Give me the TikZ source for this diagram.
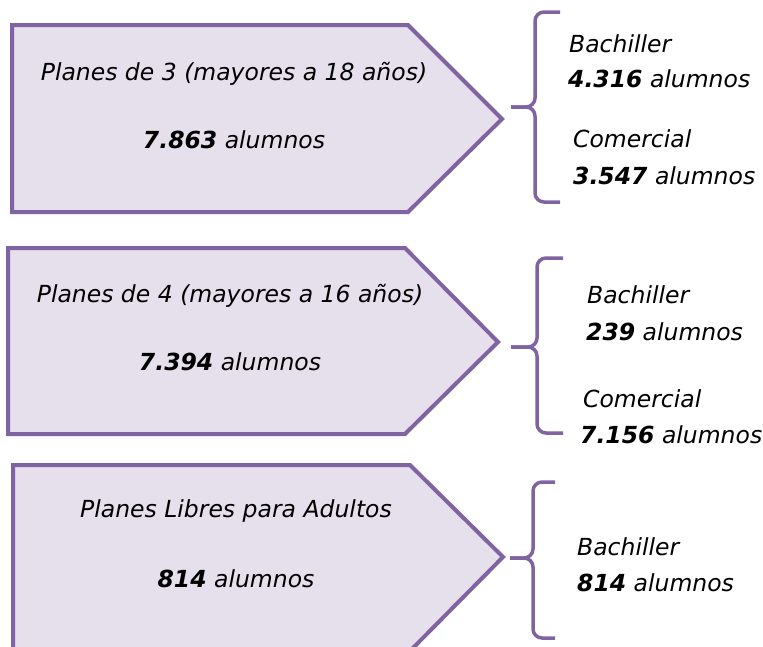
\documentclass[tikz,border=0pt]{standalone}
\usepackage{fontspec}
\setmainfont{DejaVu Sans}
\definecolor{lila}{HTML}{8064A2}
\definecolor{lilafill}{HTML}{E5E0EC}
\begin{document}
\begin{tikzpicture}[x=1pt,y=-1pt,
  box/.style={draw=lila,fill=lilafill,line width=4pt,line join=miter},
  brace/.style={draw=lila,line width=3.5pt,rounded corners=9pt},
  txt/.style={inner sep=0pt,font=\fontsize{23.5}{28}\selectfont\itshape},
  ctr/.style={txt,anchor=base},
  lft/.style={txt,anchor=base west}]
\useasboundingbox (0,0) rectangle (763,646);
\fill[white] (0,0) rectangle (763,646);
\begin{scope}
\clip (0,0) rectangle (763,646);
% boxes
\path[box] (12,25) -- (408,25) -- (502,119) -- (408,212) -- (12,212) -- cycle;
\path[box] (8,248) -- (405,248) -- (498,342) -- (405,434) -- (8,434) -- cycle;
\path[box] (13,465) -- (410,465) -- (503,557) -- (410,651) -- (13,651) -- cycle;
% braces
\path[brace] (560,12) -- (535,12) -- (535,107) -- (511,107);
\path[brace] (511,107) -- (535,107) -- (535,202) -- (560,202);
\path[brace] (563,258) -- (537,258) -- (537,347) -- (511,347);
\path[brace] (511,347) -- (537,347) -- (537,433) -- (563,433);
\path[brace] (555,482) -- (533,482) -- (533,558) -- (510,558);
\path[brace] (510,558) -- (533,558) -- (533,638) -- (555,638);
\end{scope}
% box texts
\node[ctr] (t1) at (234,80) {Planes de 3 (mayores a 18 años)};
\node[ctr] (n1) at (234,148) {\textbf{7.863} alumnos};
\node[ctr] (t2) at (230,302) {Planes de 4 (mayores a 16 años)};
\node[ctr] (n2) at (230,370) {\textbf{7.394} alumnos};
\node[ctr] (t3) at (236,517) {Planes Libres para Adultos};
\node[ctr] (n3) at (236,587) {\textbf{814} alumnos};
% right texts
\node[lft] (b1) at (569,52) {Bachiller};
\node[lft] (b1n) at (568,87) {\textbf{4.316} alumnos};
\node[lft] (c1) at (573,147) {Comercial};
\node[lft] (c1n) at (573,184) {\textbf{3.547} alumnos};
\node[lft] (b2) at (587,303) {Bachiller};
\node[lft] (b2n) at (586,340) {\textbf{239} alumnos};
\node[lft] (c2) at (583,407) {Comercial};
\node[lft] (c2n) at (580,443) {\textbf{7.156} alumnos};
\node[lft] (b3) at (577,555) {Bachiller};
\node[lft] (b3n) at (577,591) {\textbf{814} alumnos};
\end{tikzpicture}
\end{document}
